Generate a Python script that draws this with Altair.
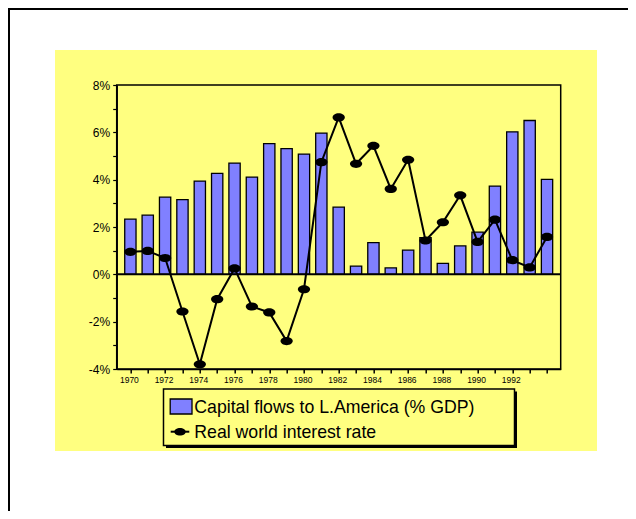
import altair as alt
import pandas as pd

years = list(range(1970, 1995))
capital_flows = [2.33, 2.50, 3.26, 3.16, 3.94, 4.27, 4.70, 4.11, 5.52, 5.31,
                 5.08, 5.97, 2.84, 0.35, 1.34, 0.27, 1.02, 1.55, 0.46, 1.20,
                 1.78, 3.73, 6.02, 6.50, 4.01]
interest_rate = [0.95, 0.99, 0.69, -1.57, -3.80, -1.05, 0.25, -1.36, -1.61, -2.82,
                 -0.63, 4.74, 6.63, 4.67, 5.43, 3.61, 4.84, 1.43, 2.20, 3.34,
                 1.37, 2.31, 0.60, 0.29, 1.58]
series_names = ["Capital flows to L.America (% GDP)", "Real world interest rate"]
y_ticks = list(range(-4, 9))

W, H = 444, 284
YELLOW = "#FFFF80"
BLUE = "#8080FF"
FONT = "Liberation Sans"
ELLIPSE = "M-1,0A1,0.67,0,1,0,1,0A1,0.67,0,1,0,-1,0Z"

df = pd.DataFrame({"year": years, "flows": capital_flows, "rate": interest_rate})
one = pd.DataFrame({"k": [0]})

xscale = alt.Scale(domain=[1969.5, 1994.5], nice=False, zero=False)
yscale = alt.Scale(domain=[-4, 8], nice=False, zero=False)

xaxis = alt.Axis(values=years, tickCount=len(years), title=None, grid=False, tickSize=4,
                 labelPadding=2, labelFontSize=8.5, labelFont=FONT, labelColor="black",
                 labelOverlap=False, labelFlush=False, labelOffset=-1.5, zindex=2,
                 labelExpr="datum.value % 2 == 0 && datum.value <= 1992 ? '' + datum.value : ''",
                 domainColor="black", domainWidth=1.5, tickColor="black", tickWidth=1.5)
yaxis = alt.Axis(values=y_ticks, tickCount=len(y_ticks), title=None, grid=False, tickSize=4,
                 labelPadding=3, labelFontSize=12, labelFont=FONT, labelColor="black", zindex=2,
                 labelOverlap=False,
                 labelExpr="datum.value % 2 == 0 ? datum.value + '%' : ''",
                 domainColor="black", domainWidth=1.5, tickColor="black", tickWidth=1.2)

# background panel and frame
yellow_bg = alt.Chart(one).mark_rect(fill=YELLOW, clip=False).encode(
    x=alt.value(-61.7), x2=alt.value(480.3), y=alt.value(-35), y2=alt.value(366))
frame_top = alt.Chart(one).mark_rule(color="black", strokeWidth=2, clip=False).encode(
    x=alt.value(-108.7), x2=alt.value(520), y=alt.value(-76))
frame_left = alt.Chart(one).mark_rule(color="black", strokeWidth=2, clip=False).encode(
    x=alt.value(-107.7), y=alt.value(-77), y2=alt.value(434))

bars = alt.Chart(df).mark_bar(width=11.3, color=BLUE, stroke="black", strokeWidth=1.3).encode(
    x=alt.X("year:Q", scale=xscale, axis=xaxis),
    y=alt.Y("flows:Q", scale=yscale, axis=yaxis),
    y2=alt.datum(0),
)
zero_rule = alt.Chart(one).mark_rule(color="black", strokeWidth=2).encode(
    y=alt.Y(datum=0, scale=yscale), x=alt.value(0), x2=alt.value(W))
line = alt.Chart(df).mark_line(color="black", strokeWidth=2).encode(
    x=alt.X("year:Q", scale=xscale), y=alt.Y("rate:Q", scale=yscale))
points = alt.Chart(df).mark_point(filled=True, color="black", opacity=1, shape=ELLIPSE, size=150).encode(
    x=alt.X("year:Q", scale=xscale), y=alt.Y("rate:Q", scale=yscale))
border = alt.Chart(one).mark_rect(fill="transparent", stroke="black", strokeWidth=1.5, clip=False).encode(
    x=alt.value(0), x2=alt.value(W), y=alt.value(0), y2=alt.value(H))

# legend
leg_shadow = alt.Chart(one).mark_rect(fill="black", clip=False).encode(
    x=alt.value(49.3), x2=alt.value(400.3), y=alt.value(306.5), y2=alt.value(363))
leg_box = alt.Chart(one).mark_rect(fill=YELLOW, stroke="black", strokeWidth=1.5, clip=False).encode(
    x=alt.value(46.8), x2=alt.value(397.8), y=alt.value(304), y2=alt.value(360.5))
leg_sq = alt.Chart(one).mark_rect(fill=BLUE, stroke="black", strokeWidth=1.3, clip=False).encode(
    x=alt.value(53.5), x2=alt.value(75.3), y=alt.value(314), y2=alt.value(329))
leg_line = alt.Chart(one).mark_rule(color="black", strokeWidth=2, clip=False).encode(
    x=alt.value(54), x2=alt.value(72.6), y=alt.value(346.7))
leg_pt = alt.Chart(one).mark_point(filled=True, color="black", opacity=1, shape=ELLIPSE, size=130, clip=False).encode(
    x=alt.value(63.3), y=alt.value(346.7))
leg_t1 = alt.Chart(one).mark_text(text=series_names[0], font=FONT, fontSize=17.7, color="black",
                                  align="left", baseline="alphabetic", clip=False).encode(
    x=alt.value(77.6), y=alt.value(327.5))
leg_t2 = alt.Chart(one).mark_text(text=series_names[1], font=FONT, fontSize=17.7, color="black",
                                  align="left", baseline="alphabetic", clip=False).encode(
    x=alt.value(77.6), y=alt.value(352.5))

chart = alt.layer(
    yellow_bg, frame_top, frame_left, bars, zero_rule, line, points, border,
    leg_shadow, leg_box, leg_sq, leg_line, leg_pt, leg_t1, leg_t2,
).properties(
    width=W, height=H,
    autosize=alt.AutoSizeParams(type="none"),
    padding={"left": 108.7, "top": 77, "right": 67.3, "bottom": 142},
    background="white",
).configure_view(stroke="transparent")

chart.save("out.html", embed_options={"renderer": "svg", "actions": False})
